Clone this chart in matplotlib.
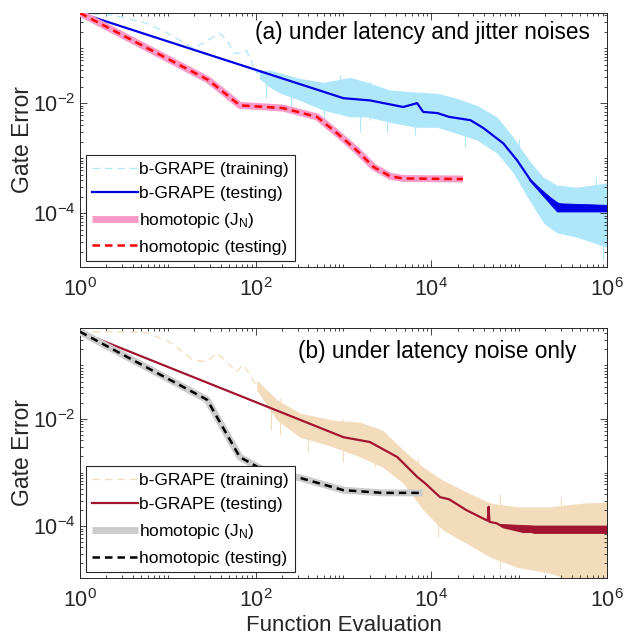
import numpy as np
import matplotlib
matplotlib.use("Agg")
import matplotlib.pyplot as plt
from matplotlib.ticker import FixedLocator, LogLocator, NullFormatter

plt.rcParams['font.family'] = ['Liberation Sans', 'DejaVu Sans']
plt.rcParams['mathtext.fontset'] = 'custom'
plt.rcParams['mathtext.rm'] = 'Liberation Sans'
plt.rcParams['mathtext.it'] = 'Liberation Sans'
plt.rcParams['mathtext.default'] = 'regular'

# ---- data: gate error as log10 values ----
# (a) latency + jitter
a_train_x = [1, 2.4, 5.8, 10, 19.5, 25, 39, 47, 56, 72, 79, 91, 103, 120]
a_train_y = [-0.36, -0.40, -0.55, -0.73, -1.00, -0.91, -0.73, -0.85, -1.09, -1.09, -1.04, -1.27, -1.45, -1.40]
# dense noise band of the training run (upper / lower edge)
a_band_x = [110, 145, 190, 320, 590, 1200, 1850, 3400, 6900, 11700, 19500, 33000, 56000, 86000,
            130000, 190000, 270000, 460000, 1000000]
a_band_hi = [-1.40, -1.40, -1.45, -1.55, -1.62, -1.53, -1.62, -1.76, -1.80, -1.82, -1.91, -2.04, -2.25,
             -2.62, -3.04, -3.35, -3.49, -3.53, -3.45]
a_band_lo = [-1.55, -1.71, -1.82, -1.95, -2.13, -2.25, -2.25, -2.35, -2.44, -2.44, -2.55, -2.67, -2.91,
             -3.27, -3.76, -4.18, -4.36, -4.44, -4.62]
# single spikes of the training run (x, low, high)
a_spk_x = [130, 250, 600, 910, 1550, 2000, 3100, 6600, 24000, 100000, 750000, 900000]
a_spk_lo = [-1.90, -2.10, -2.40, -2.20, -2.53, -2.30, -2.53, -2.58, -2.80, -3.30, -4.00, -4.85]
a_spk_hi = [-1.40, -1.50, -1.70, -1.49, -2.00, -1.60, -2.00, -2.10, -2.30, -2.65, -3.35, -4.20]
a_test_x = [1, 1000, 2000, 4800, 6900, 8100, 11700, 16000, 28000, 39000, 66000, 95000, 135000,
            190000, 270000, 380000, 1000000]
a_test_y = [-0.36, -1.91, -1.95, -2.07, -2.00, -2.16, -2.18, -2.25, -2.31, -2.45, -2.73, -3.04, -3.40,
            -3.64, -3.82, -3.91, -3.92]
a_hom_x = [1, 29, 66, 205, 500, 850, 1400, 2200, 3400, 4800, 23000]
a_hom_y = [-0.36, -1.58, -2.04, -2.09, -2.25, -2.55, -2.85, -3.16, -3.33, -3.37, -3.38]

# (b) latency only
b_train_x = [1, 3.1, 5.8, 10.5, 19.5, 28, 36, 45, 60, 72, 87, 103, 122, 160]
b_train_y = [-0.37, -0.37, -0.39, -0.56, -0.90, -0.93, -0.77, -0.90, -1.12, -0.99, -1.18, -1.40, -1.51, -1.89]
b_band_x = [103, 175, 320, 760, 1550, 2800, 4800, 8100, 13500, 25000, 47000, 94000, 224000,
            540000, 1000000]
b_band_hi = [-1.27, -1.64, -1.89, -2.02, -2.06, -2.21, -2.58, -2.90, -3.14, -3.36, -3.57, -3.64, -3.64,
             -3.57, -3.55]
b_band_lo = [-1.46, -2.02, -2.34, -2.52, -2.71, -2.90, -3.20, -3.70, -4.07, -4.32, -4.58, -4.77, -4.88,
             -5.10, -5.10]
b_spk_x = [150, 190, 400, 1000, 2300, 7000, 12000, 60000, 300000]
b_spk_lo = [-2.20, -2.30, -2.60, -2.80, -2.90, -3.50, -4.20, -4.80, -5.00]
b_spk_hi = [-1.70, -1.60, -2.00, -2.00, -2.15, -2.75, -3.50, -3.40, -3.45]
b_test_x = [1, 1000, 2000, 4100, 6900, 8500, 12600, 16000, 25000, 38000, 44000, 45000, 46000, 56000,
            66000, 112000, 1000000]
b_test_y = [-0.37, -2.34, -2.43, -2.71, -3.08, -3.20, -3.46, -3.50, -3.70, -3.85, -3.90, -3.64, -3.92,
            -3.95, -4.02, -4.11, -4.09]
b_hom_x = [1, 28, 66, 112, 180, 320, 1000, 2800, 8000]
b_hom_y = [-0.37, -1.64, -2.71, -2.92, -3.02, -3.10, -3.33, -3.38, -3.38]

# jitter of the testing curves once they flatten (x, low, high)
a_jit_x = [130000, 270000, 1000000]
a_jit_lo = [-3.40, -3.97, -3.97]
a_jit_hi = [-3.38, -3.82, -3.85]
b_jit_x = [60000, 150000, 1000000]
b_jit_lo = [-3.98, -4.13, -4.13]
b_jit_hi = [-3.96, -3.99, -3.99]

x_ticks = [1, 1e2, 1e4, 1e6]
y_ticks = [1e-4, 1e-2]

panels = [
    dict(train_x=a_train_x, train_y=a_train_y, band_x=a_band_x, band_hi=a_band_hi, band_lo=a_band_lo,
         spk=(a_spk_x, a_spk_lo, a_spk_hi), test_x=a_test_x, test_y=a_test_y,
         jit=(a_jit_x, a_jit_lo, a_jit_hi), hom_x=a_hom_x, hom_y=a_hom_y,
         c_train='#aee6fa', c_test='#0000e6', c_thick='#f99ac8', c_dash='#ff0000',
         ylim=(10**-4.98, 10**-0.36), title='(a) under latency and jitter noises',
         title_xy=(0.968, 0.925)),
    dict(train_x=b_train_x, train_y=b_train_y, band_x=b_band_x, band_hi=b_band_hi, band_lo=b_band_lo,
         spk=(b_spk_x, b_spk_lo, b_spk_hi), test_x=b_test_x, test_y=b_test_y,
         jit=(b_jit_x, b_jit_lo, b_jit_hi), hom_x=b_hom_x, hom_y=b_hom_y,
         c_train='#f3dcbb', c_test='#a2142f', c_thick='#cccccc', c_dash='#000000',
         ylim=(10**-4.97, 10**-0.30), title='(b) under latency noise only',
         title_xy=(0.943, 0.904)),
]

fig = plt.figure(figsize=(6.25, 6.43), dpi=100)
ax_a = fig.add_axes([0.128, 0.5848, 0.843, 0.395])
ax_b = fig.add_axes([0.128, 0.1011, 0.843, 0.3888])

p10 = lambda v: np.power(10.0, v)

for ax, p in zip([ax_a, ax_b], panels):
    l1, = ax.plot(p['train_x'], p10(p['train_y']), color=p['c_train'], lw=0.9, dashes=(6, 4))
    ax.fill_between(p['band_x'], p10(p['band_lo']), p10(p['band_hi']), color=p['c_train'], lw=0)
    sx, slo, shi = p['spk']
    ax.vlines(sx, p10(slo), p10(shi), color=p['c_train'], lw=0.8, zorder=1.5)
    l2, = ax.plot(p['test_x'], p10(p['test_y']), color=p['c_test'], lw=1.6, zorder=2)
    jx, jlo, jhi = p['jit']
    ax.fill_between(jx, p10(jlo), p10(jhi), color=p['c_test'], lw=0.6, edgecolor=p['c_test'], zorder=2)
    l3, = ax.plot(p['hom_x'], p10(p['hom_y']), color=p['c_thick'], lw=5, solid_capstyle='butt', zorder=3)
    l4, = ax.plot(p['hom_x'], p10(p['hom_y']), color=p['c_dash'], lw=1.8, dashes=(3, 2), zorder=3)

    ax.set_xscale('log')
    ax.set_yscale('log')
    ax.set_xlim(1, 1e6)
    ax.set_ylim(*p['ylim'])
    ax.xaxis.set_major_locator(FixedLocator(x_ticks))
    ax.xaxis.set_minor_locator(LogLocator(base=10.0, subs=np.arange(1, 10), numticks=20))
    ax.xaxis.set_minor_formatter(NullFormatter())
    ax.yaxis.set_major_locator(FixedLocator(y_ticks))
    ax.yaxis.set_minor_locator(LogLocator(base=10.0, subs=np.arange(1, 10), numticks=20))
    ax.yaxis.set_minor_formatter(NullFormatter())
    ax.tick_params(which='both', direction='in', top=True, right=True, colors='#262626',
                   labelsize=15.5, width=0.6)
    ax.tick_params(which='major', length=5)
    ax.tick_params(which='minor', length=2.5)
    ax.tick_params(axis='x', which='major', pad=8)
    ax.tick_params(axis='y', which='major', pad=3)
    for s in ax.spines.values():
        s.set_linewidth(0.7)
        s.set_color('#262626')
    ax.set_ylabel('Gate Error', fontsize=16.5, color='#262626')
    ax.yaxis.set_label_coords(-0.088, 0.5)

    tx, ty = p['title_xy']
    ax.text(tx, ty, p['title'], transform=ax.transAxes, ha='right', va='center', fontsize=16.3)

    leg = ax.legend([l1, l2, l3, l4],
                    ['b-GRAPE (training)', 'b-GRAPE (testing)',
                     r'homotopic (J$_\mathregular{N}$)', 'homotopic (testing)'],
                    loc='lower left', bbox_to_anchor=(0.012, 0.025), fontsize=12.5,
                    handlelength=2.6, handletextpad=0.1, labelspacing=0.55,
                    borderpad=0.35, borderaxespad=0, fancybox=False, framealpha=1)
    leg.get_frame().set_edgecolor('#262626')
    leg.get_frame().set_linewidth(0.8)
    leg.set_zorder(5)

ax_b.set_xlabel('Function Evaluation', fontsize=16, color='#262626', labelpad=2)

fig.savefig('out.png', dpi=100)
